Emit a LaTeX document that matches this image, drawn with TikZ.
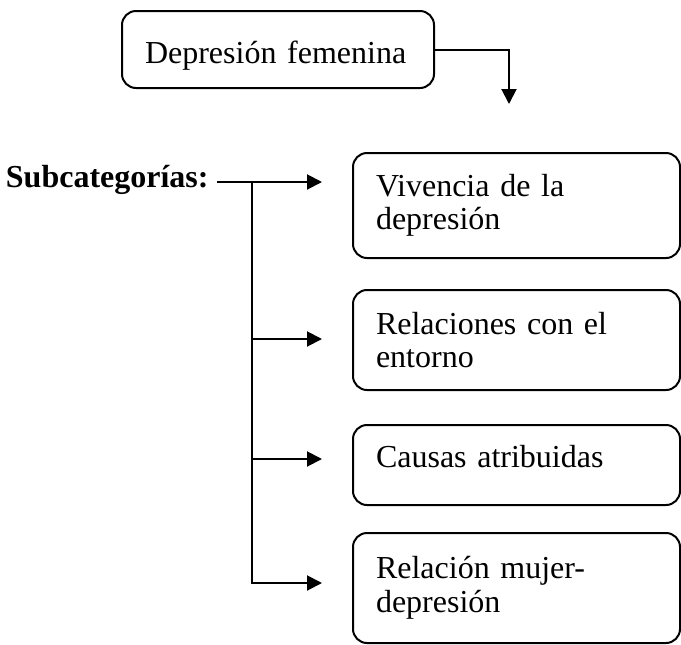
\documentclass[tikz,border=0pt]{standalone}
\usepackage{fontspec}
\setmainfont{Liberation Serif}
\usepackage{tikz}
\usetikzlibrary{arrows.meta}

\begin{document}
\begin{tikzpicture}[
        x=0.5pt, y=-0.5pt,
        font=\fontsize{16}{16.75}\selectfont,
        box/.style = {draw, rectangle, rounded corners=7pt, line width=1pt, outer sep=0pt, anchor=north west, align=left, inner xsep=11.5pt, inner ysep=0pt, minimum width=163.5pt, text width=140.5pt},
        arrow/.style = {-{Triangle[length=7.5pt,width=7.5pt]}, line width=1pt}
    ]
    \useasboundingbox (0,0) rectangle (681,644);

    % Main category at the top
    \node[box, minimum width=156pt, text width=133pt, minimum height=38.5pt, text height=17pt, text depth=3.5pt] (top) at (122,11) {Depresión femenina};
    \coordinate (t0) at (509,104);

    % Label on the left
    \node[font=\fontsize{16}{16.75}\selectfont\bfseries, inner sep=4pt, anchor=base east] (sub) at (217,187) {Subcategorías:};

    % Subcategory boxes on the right
    \node[box, minimum height=52.5pt] (viv) at (353,153) {Vivencia de la\\depresión};
    \node[box, minimum height=50pt] (rel) at (353,290) {Relaciones con el\\entorno};
    \node[box, minimum height=40pt, text height=11pt, text depth=9pt] (cau) at (353,425) {Causas atribuidas};
    \node[box, minimum height=55pt] (muj) at (353,533) {Relación mujer-\\depresión};

    % Branch points and arrow ends
    \coordinate (j1) at (252,182);
    \coordinate (j2) at (252,339);
    \coordinate (j3) at (252,459);
    \coordinate (t1) at (322,182);
    \coordinate (t2) at (322,339);
    \coordinate (t3) at (322,459);
    \coordinate (t4) at (322,583);

    % Draw arrows
    \draw[arrow] (top.east) -| (t0);
    \draw[arrow] (sub.east |- t1) -- (t1);
    \draw[arrow] (j1) |- (t4);
    \draw[arrow] (j2) -- (t2);
    \draw[arrow] (j3) -- (t3);

\end{tikzpicture}
\end{document}
